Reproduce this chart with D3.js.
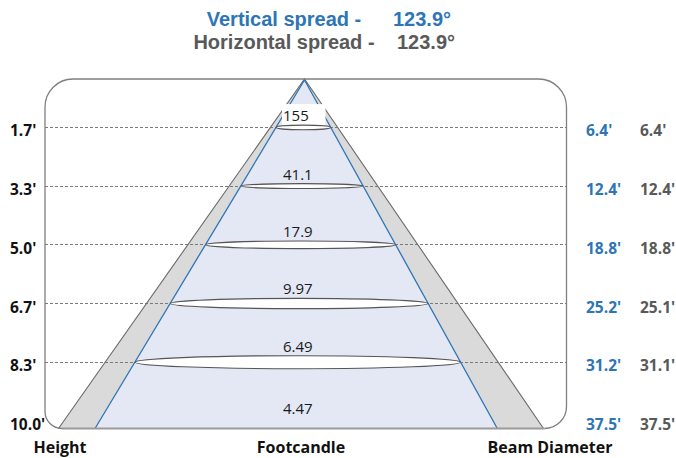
<!DOCTYPE html>
<html>
<head>
<meta charset="utf-8">
<script src="https://cdn.jsdelivr.net/npm/d3@7"></script>
<style>
  html, body { margin: 0; padding: 0; background: #fff; }
  svg { display: block; font-family: "Open Sans", "Noto Sans", sans-serif; }
</style>
</head>
<body>
<svg id="chart" width="676" height="458"></svg>
<script>
// ---- data ----
const heights = ["1.7'", "3.3'", "5.0'", "6.7'", "8.3'", "10.0'"];
const footcandles = ["155", "41.1", "17.9", "9.97", "6.49", "4.47"];
const verticalDiameters = ["6.4'", "12.4'", "18.8'", "25.2'", "31.2'", "37.5'"];
const horizontalDiameters = ["6.4'", "12.4'", "18.8'", "25.1'", "31.1'", "37.5'"];
const spreadLabels = ["Vertical spread -", "Horizontal spread -"];
const spreadValues = ["123.9°", "123.9°"];
const columnTitles = ["Height", "Footcandle", "Beam Diameter"];

// ---- layout ----
const frame = { left: 45, right: 566.5, top: 79, bottom: 428.5, rTop: 28, rBL: 17, rBR: 22 };
const apex = { x: 304.5, y: 79 };
const outerBase = { left: 58.5, right: 543.5 };
const blue = "#2e75b6", grey = "#595959";

const svg = d3.select("#chart");

// rows: heights spaced evenly
const y = d3.scalePoint().domain(heights).range([126.9, 420.4]);
// beam diameter scale (blue beam edges at frame bottom)
const maxDiam = parseFloat(verticalDiameters[verticalDiameters.length - 1]);
const x = d3.scaleLinear().domain([-maxDiam / 2, maxDiam / 2]).range([95, 497.3]);

const blueApex = { x: apex.x, y: apex.y + 1 };
function blueEdge(yy, side) {
  const t = (yy - blueApex.y) / (frame.bottom - blueApex.y);
  const bx = x(side * maxDiam / 2);
  return blueApex.x + (bx - blueApex.x) * t;
}

// outer gray cone
svg.append("path")
  .attr("d", d3.line()([[apex.x, apex.y], [outerBase.right, frame.bottom], [outerBase.left, frame.bottom]]) + "Z")
  .attr("fill", "#dadada");

// dashed guide lines
const lineRows = heights.slice(0, heights.length - 1);
svg.append("g").selectAll("line").data(lineRows).join("line")
  .attr("x1", frame.left).attr("x2", frame.right)
  .attr("y1", d => Math.round(y(d)) + 0.5).attr("y2", d => Math.round(y(d)) + 0.5)
  .attr("stroke", "#7a7a7a").attr("stroke-width", 1).attr("stroke-dasharray", "3,2");

// inner beam fill
svg.append("path")
  .attr("d", d3.line()([[blueApex.x, blueApex.y], [x(maxDiam / 2), frame.bottom], [x(-maxDiam / 2), frame.bottom]]) + "Z")
  .attr("fill", "#e4e8f5");

// outer cone edges
svg.append("path")
  .attr("d", d3.line()([[outerBase.left, frame.bottom], [apex.x, apex.y], [outerBase.right, frame.bottom]]))
  .attr("fill", "none").attr("stroke", "#6a6a6a").attr("stroke-width", 1.1);

// blue beam edges
svg.append("path")
  .attr("d", d3.line()([[x(-maxDiam / 2), frame.bottom], [blueApex.x, blueApex.y], [x(maxDiam / 2), frame.bottom]]))
  .attr("fill", "none").attr("stroke", blue).attr("stroke-width", 1.3);

// footcandle labels (with white box behind the first)
const fcG = svg.append("g");
const fcText = fcG.selectAll("text").data(footcandles).join("text")
  .attr("x", 283)
  .attr("y", (d, i) => {
    const yy = y(heights[i]);
    if (i === footcandles.length - 1) return yy - 6;
    const rx = (blueEdge(yy, 1) - blueEdge(yy, -1)) / 2;
    const ry = Math.max(2.3, rx * 0.04);
    return yy - 3.5 - ry;
  })
  .attr("font-size", "15px").attr("fill", "#1a1a1a")
  .text(d => d);

const firstBox = fcText.filter((d, i) => i === 0).node().getBBox();
fcG.insert("rect", "text")
  .attr("x", firstBox.x - 1).attr("y", firstBox.y - 1)
  .attr("width", (apex.x + 21) - (firstBox.x - 1)).attr("height", firstBox.height + 1)
  .attr("fill", "#fff");

// ellipses at each height row
svg.append("g").selectAll("ellipse").data(lineRows).join("ellipse")
  .attr("cx", d => (blueEdge(y(d), 1) + blueEdge(y(d), -1)) / 2)
  .attr("cy", d => y(d) + 0.5)
  .attr("rx", d => (blueEdge(y(d), 1) - blueEdge(y(d), -1)) / 2)
  .attr("ry", d => Math.max(2.3, (blueEdge(y(d), 1) - blueEdge(y(d), -1)) / 2 * 0.04))
  .attr("fill", "#fff").attr("stroke", "#555").attr("stroke-width", 1.1);

// base line
svg.append("line")
  .attr("x1", frame.left + frame.rBL).attr("x2", frame.right - frame.rBR)
  .attr("y1", frame.bottom).attr("y2", frame.bottom)
  .attr("stroke", "#9a9a9a").attr("stroke-width", 2);

// rounded frame
const f = frame;
const framePath = `M${f.left},${f.bottom - f.rBL}
  L${f.left},${f.top + f.rTop}
  A${f.rTop},${f.rTop} 0 0 1 ${f.left + f.rTop},${f.top}
  L${f.right - f.rTop},${f.top}
  A${f.rTop},${f.rTop} 0 0 1 ${f.right},${f.top + f.rTop}
  L${f.right},${f.bottom - f.rBR}
  A${f.rBR},${f.rBR} 0 0 1 ${f.right - f.rBR},${f.bottom}
  M${f.left},${f.bottom - f.rBL}
  A${f.rBL},${f.rBL} 0 0 0 ${f.left + f.rBL},${f.bottom}`;
svg.append("path").attr("d", framePath)
  .attr("fill", "none").attr("stroke", "#7f7f7f").attr("stroke-width", 1.3);

// height labels
svg.append("g").selectAll("text").data(heights).join("text")
  .attr("x", 10).attr("y", d => y(d) + 9.5)
  .attr("font-size", "15.5px").attr("font-weight", "bold").attr("fill", "#111")
  .text(d => d);

// diameter labels
svg.append("g").selectAll("text").data(verticalDiameters).join("text")
  .attr("x", 586).attr("y", (d, i) => y(heights[i]) + 9.5)
  .attr("font-size", "15.5px").attr("font-weight", "bold").attr("fill", blue)
  .text(d => d);
svg.append("g").selectAll("text").data(horizontalDiameters).join("text")
  .attr("x", 640).attr("y", (d, i) => y(heights[i]) + 9.5)
  .attr("font-size", "15.5px").attr("font-weight", "bold").attr("fill", grey)
  .text(d => d);

// column titles
const titleX = [60, 301, 550];
svg.append("g").selectAll("text").data(columnTitles).join("text")
  .attr("x", (d, i) => titleX[i]).attr("y", 453)
  .attr("text-anchor", "middle")
  .attr("font-size", "16px").attr("font-weight", "bold").attr("fill", "#111")
  .text(d => d);

// spread header
const spreadColors = [blue, grey];
const spreadY = [26, 49];
const spreadValX = [393, 397];
const headFont = "'Liberation Sans', Arial, sans-serif";
svg.append("g").selectAll("text").data(spreadLabels).join("text")
  .attr("x", 284).attr("y", (d, i) => spreadY[i])
  .attr("text-anchor", "middle")
  .attr("font-family", headFont)
  .attr("font-size", "20px").attr("font-weight", "bold")
  .attr("fill", (d, i) => spreadColors[i])
  .text(d => d);
svg.append("g").selectAll("text").data(spreadValues).join("text")
  .attr("x", (d, i) => spreadValX[i]).attr("y", (d, i) => spreadY[i])
  .attr("font-family", headFont)
  .attr("font-size", "20px").attr("font-weight", "bold")
  .attr("fill", (d, i) => spreadColors[i])
  .text(d => d);
</script>
</body>
</html>
